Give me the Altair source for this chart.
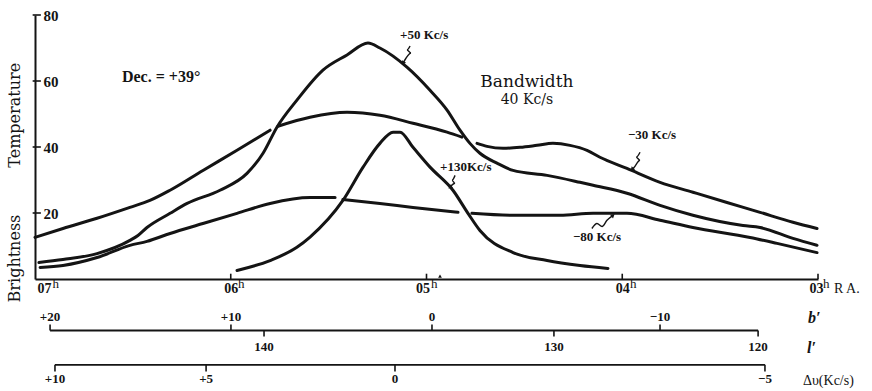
import altair as alt
import pandas as pd

# ---------------- data (RA in hours, brightness temperature) ----------------
m30_ra_1 = [7.0, 6.857, 6.683, 6.515, 6.413, 6.310, 6.142, 5.968, 5.799]
m30_t_1 = [12.6, 15.3, 18.4, 21.7, 23.8, 26.9, 32.9, 39.0, 45.1]
m30_ra_2 = [5.759, 5.595, 5.406, 5.238, 5.069, 4.895, 4.819]
m30_t_2 = [46.3, 49.0, 50.5, 49.6, 47.2, 44.5, 43.0]
m30_ra_3 = [4.742, 4.691, 4.609, 4.522, 4.435, 4.354, 4.267, 4.180, 4.114, 3.976,
            3.807, 3.639, 3.465, 3.296, 3.128, 3.005]
m30_t_3 = [41.1, 40.2, 39.6, 39.9, 40.5, 41.1, 40.5, 39.0, 36.9, 33.5,
           29.3, 26.3, 23.2, 20.2, 17.2, 15.3]

p50_ra = [6.98, 6.857, 6.683, 6.515, 6.474, 6.428, 6.310, 6.223, 6.055, 5.917,
          5.835, 5.764, 5.662, 5.529, 5.406, 5.299, 5.238, 5.100, 4.982, 4.895,
          4.829, 4.778, 4.727, 4.640, 4.558, 4.384, 4.216, 4.149, 3.976, 3.807,
          3.639, 3.383, 3.296, 3.128, 3.005]
p50_t = [5.0, 5.9, 7.7, 11.7, 13.2, 15.6, 19.9, 22.9, 26.9, 32.0,
         38.1, 46.0, 54.2, 63.3, 67.9, 71.5, 70.0, 64.2, 57.2, 51.2,
         45.1, 41.1, 38.1, 35.1, 32.9, 31.4, 29.3, 28.4, 26.0, 22.3,
         19.3, 16.2, 15.6, 12.3, 10.2]

m80_ra_1 = [6.974, 6.857, 6.683, 6.515, 6.428, 6.310, 6.142, 5.968, 5.799, 5.595, 5.467]
m80_t_1 = [3.5, 4.1, 6.5, 10.2, 11.4, 13.8, 16.8, 19.9, 22.9, 24.7, 24.7]
m80_ra_2 = [5.427, 5.238, 5.069, 4.839]
m80_t_2 = [24.1, 22.9, 21.7, 20.2]
m80_ra_3 = [4.768, 4.558, 4.318, 4.149, 3.976, 3.807, 3.639, 3.347, 3.209, 3.005]
m80_t_3 = [19.9, 19.3, 19.3, 19.9, 19.9, 17.8, 15.6, 12.6, 10.8, 8.0]

p130_ra = [5.968, 5.799, 5.662, 5.595, 5.427, 5.324, 5.238, 5.171, 5.135, 5.069,
           4.982, 4.865, 4.788, 4.727, 4.558, 4.384, 4.216, 4.073]
p130_t = [2.6, 5.6, 9.6, 12.7, 23.8, 33.9, 41.1, 44.5, 44.5, 39.9,
          33.9, 26.9, 19.9, 14.7, 8.0, 5.6, 4.1, 3.2]

# main axes
ra_ticks = [7, 6, 5, 4, 3]
t_ticks = [20, 40, 60, 80]
hour_sup_ra = [6.910, 5.963, 4.977, 3.960, 2.974]   # position of the superscript "h"

# secondary scales (positions given in RA hours)
b_labels = ["+20", "+10", "0", "−10"]
b_pos = [6.923, 5.999, 4.972, 3.807]
l_labels = ["140", "130", "120"]
l_pos = [5.830, 4.349, 3.306]
dv_labels = ["+10", "+5", "0", "−5"]
dv_pos = [6.898, 6.126, 5.161, 3.271]
b_line = [6.923, 3.306]
dv_line = [6.898, 3.271]
b_level = -15.6
dv_level = -26.0

# annotations
curve_label_text = ["+50 Kc/s", "+130Kc/s", "−30 Kc/s", "−80 Kc/s"]
curve_label_ra = [5.135, 4.931, 3.971, 4.252]
curve_label_t = [73.9, 33.9, 43.6, 12.6]

squiggles = {
    "+50": ([5.084, 5.100, 5.079, 5.105, 5.120], [70.6, 69.4, 68.5, 66.9, 65.4], 31),
    "+130": ([4.854, 4.870, 4.854, 4.880], [31.4, 29.9, 29.0, 27.8], 51),
    "-30": ([3.909, 3.929, 3.909, 3.940, 3.950], [38.4, 36.9, 36.0, 33.8, 33.2], 42),
    "-80": ([4.155, 4.129, 4.103, 4.078, 4.047], [15.3, 16.8, 15.9, 17.8, 19.3], 230),
}

# ---------------- build tables ----------------
curves = {
    "-30": [(m30_ra_1, m30_t_1), (m30_ra_2, m30_t_2), (m30_ra_3, m30_t_3)],
    "+50": [(p50_ra, p50_t)],
    "-80": [(m80_ra_1, m80_t_1), (m80_ra_2, m80_t_2), (m80_ra_3, m80_t_3)],
    "+130": [(p130_ra, p130_t)],
}
rows = []
for name, segs in curves.items():
    for si, (ras, ts) in enumerate(segs):
        for i, (r, t) in enumerate(zip(ras, ts)):
            rows.append(dict(seg=f"{name}_{si}", ra=r, t=t, order=i))
df = pd.DataFrame(rows)

sq_rows, head_rows = [], []
for name, (ras, ts, ang) in squiggles.items():
    for i, (r, t) in enumerate(zip(ras, ts)):
        sq_rows.append(dict(seg=name, ra=r, t=t, order=i))
    head_rows.append(dict(ra=ras[-1], t=ts[-1], ang=ang))
sq_df = pd.DataFrame(sq_rows)
head_df = pd.DataFrame(head_rows)

INK = "#141414"
SERIF = "Liberation Serif"
X = alt.Scale(domain=[7, 3], nice=False, zero=False)
Y = alt.Scale(domain=[0, 80], nice=False, zero=False)


def xq(field="ra"):
    return alt.X(f"{field}:Q", scale=X, axis=None)


def yq(field="t"):
    return alt.Y(f"{field}:Q", scale=Y, axis=None)


lines = alt.Chart(df).mark_line(
    color=INK, strokeWidth=3, interpolate="monotone", strokeCap="round", strokeJoin="round"
).encode(
    x=alt.X("ra:Q", scale=X, axis=alt.Axis(
        values=ra_ticks, labelExpr="'0' + datum.value", ticks=False, grid=False,
        domainWidth=2, domainColor=INK, labelColor=INK, labelFont=SERIF,
        labelFontSize=14, labelFontWeight="bold", labelPadding=2, labelFlush=False,
        labelOffset={"condition": [{"test": "datum.value == 7", "value": 9},
                                   {"test": "datum.value == 5", "value": -4},
                                   {"test": "datum.value == 3", "value": -2}],
                     "value": 0},
        title=None)),
    y=alt.Y("t:Q", scale=Y, axis=alt.Axis(
        values=t_ticks, ticks=False, grid=False, domainWidth=2, domainColor=INK,
        labelColor=INK, labelFont=SERIF, labelFontSize=15, labelFontWeight="bold",
        labelAlign="left", labelPadding=-8, title=None)),
    detail="seg:N",
    order="order:Q",
)

# superscript "h" of the hour labels
hsup = alt.Chart(pd.DataFrame({"ra": hour_sup_ra, "t": [-1.4] * 5, "txt": ["h"] * 5})).mark_text(
    font=SERIF, fontSize=13, color=INK, align="left", baseline="middle"
).encode(x=xq(), y=yq(), text="txt:N")

# main axis tick marks (pointing inward)
xt = alt.Chart(pd.DataFrame({"ra": ra_ticks[1:]})).mark_rule(color=INK, strokeWidth=1.6).encode(
    x=xq(), y=alt.datum(0, scale=Y, axis=None), y2=alt.datum(1.6))
yt = alt.Chart(pd.DataFrame({"t": t_ticks})).mark_rule(color=INK, strokeWidth=1.6).encode(
    y=yq(), x=alt.datum(7.012, scale=X, axis=None), x2=alt.datum(6.97))
mark05 = alt.Chart(pd.DataFrame({"ra": [4.931], "t": [0.9]})).mark_point(
    shape="triangle-up", filled=True, color=INK, size=14, opacity=1).encode(x=xq(), y=yq())

# secondary axes
sec_lines = alt.Chart(pd.DataFrame({
    "ra": [b_line[0], dv_line[0]], "ra2": [b_line[1], dv_line[1]], "t": [b_level, dv_level]
})).mark_rule(color=INK, strokeWidth=1.8).encode(x=xq(), x2="ra2:Q", y=yq())

tick_rows = ([dict(ra=p, t=b_level, t2=b_level + 1.8) for p in b_pos]
             + [dict(ra=p, t=b_level, t2=b_level - 1.8) for p in l_pos]
             + [dict(ra=p, t=dv_level, t2=dv_level - 2.0) for p in dv_pos])
sec_ticks = alt.Chart(pd.DataFrame(tick_rows)).mark_rule(color=INK, strokeWidth=1.6).encode(
    x=xq(), y=yq(), y2="t2:Q")

sec_label_rows = ([dict(ra=p, t=-11.4, txt=s) for p, s in zip(b_pos, b_labels)]
                  + [dict(ra=p, t=-20.6, txt=s) for p, s in zip(l_pos, l_labels)]
                  + [dict(ra=p, t=-30.3, txt=s) for p, s in zip(dv_pos, dv_labels)])
sec_labels = alt.Chart(pd.DataFrame(sec_label_rows)).mark_text(
    font=SERIF, fontSize=13, fontWeight="bold", color=INK, align="center", baseline="middle"
).encode(x=xq(), y=yq(), text="txt:N")

side_italic = alt.Chart(pd.DataFrame({
    "ra": [3.051, 3.056], "t": [-11.7, -20.8], "txt": ["b′", "l′"],
})).mark_text(font=SERIF, fontSize=16, fontWeight="bold", fontStyle="italic", color=INK,
              align="left", baseline="middle").encode(x=xq(), y=yq(), text="txt:N")
side_plain = alt.Chart(pd.DataFrame({
    "ra": [3.077, 2.918], "t": [-30.8, -2.9], "txt": ["Δυ(Kc/s)", "R A."],
})).mark_text(font=SERIF, fontSize=14, color=INK, align="left",
              baseline="middle").encode(x=xq(), y=yq(), text="txt:N")

# annotation texts
dec = alt.Chart(pd.DataFrame({"ra": [6.556], "t": [61.2], "txt": ["Dec. = +39°"]})).mark_text(
    font=SERIF, fontSize=16, fontWeight="bold", color=INK, align="left", baseline="middle"
).encode(x=xq(), y=yq(), text="txt:N")

bw = alt.Chart(pd.DataFrame({"ra": [4.487, 4.487], "t": [59.7, 54.2],
                             "txt": ["Bandwidth", "40 Kc/s"], "fs": [17, 14]})).mark_text(
    font="DejaVu Serif", color=INK, align="center", baseline="middle"
).encode(x=xq(), y=yq(), text="txt:N", size=alt.Size("fs:Q", scale=None, legend=None))

clabels = alt.Chart(pd.DataFrame({"ra": curve_label_ra, "t": curve_label_t,
                                  "txt": curve_label_text})).mark_text(
    font=SERIF, fontSize=13, fontWeight="bold", color=INK, align="left", baseline="middle"
).encode(x=xq(), y=yq(), text="txt:N")

ytitle = alt.Chart(pd.DataFrame({"ra": [7.102, 7.102], "t": [49.6, 6.2],
                                 "txt": ["Temperature", "Brightness"]})).mark_text(
    font="DejaVu Serif", fontSize=16, color=INK, align="center", baseline="middle", angle=270
).encode(x=xq(), y=yq(), text="txt:N")

sq = alt.Chart(sq_df).mark_line(color=INK, strokeWidth=1.4, interpolate="monotone").encode(
    x=xq(), y=yq(), detail="seg:N", order="order:Q")
heads = alt.Chart(head_df).mark_point(shape="triangle-down", filled=True, color=INK,
                                      size=22, opacity=1).encode(
    x=xq(), y=yq(), angle=alt.Angle("ang:Q", scale=None))

chart = alt.layer(
    lines, hsup, xt, yt, mark05, sec_lines, sec_ticks, sec_labels, side_italic, side_plain,
    dec, bw, clabels, ytitle, sq, heads
).resolve_axis(x="independent", y="independent").properties(
    width=783, height=264,
    autosize=alt.AutoSizeParams(type="none"),
    padding={"left": 35, "top": 15, "right": 54, "bottom": 112},
    background="white",
).configure_view(stroke=None)

chart.save("out.html", embed_options={"renderer": "svg", "actions": False})
